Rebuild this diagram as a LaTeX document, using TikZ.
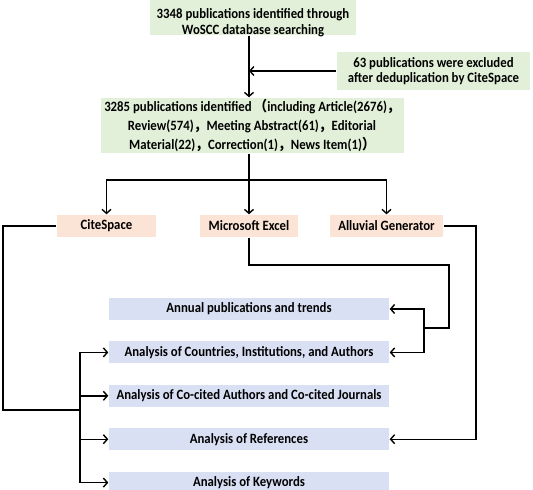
\documentclass[tikz,border=0pt]{standalone}
\usepackage{fontspec}
\setmainfont{Carlito}[FakeStretch=0.9]
\newfontfamily\cjk{Noto Sans CJK SC}[FakeStretch=0.9]
\usepackage{xcolor}
\usepackage{tikz}
\usetikzlibrary{arrows.meta, positioning}
\definecolor{srcgreen}{HTML}{E2F0D9}
\definecolor{toolpeach}{HTML}{FBE3D6}
\definecolor{resblue}{HTML}{DAE0F4}
\newcommand{\fw}[1]{{\cjk #1}}

\begin{document}
\begin{tikzpicture}[x=1pt, y=-1pt, line width=1.4pt,
        font=\bfseries\fontsize{14.2}{15.5}\selectfont,
        >={Straight Barb[length=4pt, width=9pt]},
        greenbox/.style={fill=srcgreen, align=center, inner sep=0pt},
        toolbox/.style={fill=toolpeach, inner sep=0pt, minimum height=22pt},
        resbox/.style={fill=resblue, inner sep=0pt, minimum width=280pt, minimum height=22pt}]
        \useasboundingbox (0,0) rectangle (533,490);

        % search and deduplication
        \node (search) [greenbox, minimum width=206pt, minimum height=46pt] at (253,12) {};
        \node (searchtxt) [align=center, inner sep=0pt] at (search.center |- 0,22.5)
            {3348 publications identified through\\WoSCC database searching};
        \node (excl) [greenbox, minimum width=193pt, minimum height=38pt] at (433.5,71)
            {63 publications were excluded\\after deduplication by CiteSpace};
        \node (ident) [greenbox, minimum width=303pt, minimum height=55pt,
            font=\bfseries\fontsize{14.2}{19}\selectfont] at (252,125.5)
            {3285 publications identified \fw{（}including Article(2676)\fw{，}\\
             Review(574)\fw{，}Meeting Abstract(61)\fw{，}Editorial\\
             Material(22)\fw{，}Correction(1)\fw{，}News Item(1)\fw{）}};

        % tools
        \node (cite) [toolbox, minimum width=99pt] at (106.5,226) {CiteSpace};
        \node (excel) [toolbox, minimum width=98pt] at (249,226) {Microsoft Excel};
        \node (alluv) [toolbox, minimum width=113pt] at (386.5,226) {Alluvial Generator};

        % results
        \node (r1) [resbox] at (249,309) {Annual publications and trends};
        \node (r2) [resbox, below=20pt of r1] {Analysis of Countries, Institutions, and Authors};
        \node (r3) [resbox, below=20pt of r2] {Analysis of Co-cited Authors and Co-cited Journals};
        \node (r4) [resbox, below=20pt of r3] {Analysis of References};
        \node (r5) [resbox, below=20pt of r4] {Analysis of Keywords};

        \coordinate (split) at (249,180);
        \coordinate (cleft) at (3,410);
        \coordinate (ctrunk) at (80,410);
        \coordinate (ebend) at (449,265);
        \coordinate (ebrk) at (424,328);
        \coordinate (aright) at (476,226);

        \draw [->] (search.south -| split) -- (ident.north -| split);
        \draw [->] (excl.west) -- (excl.west -| split);
        \draw (ident.south -| split) -- (split);
        \draw [->] (split) -| (cite.north);
        \draw [->] (split) -- (excel.north);
        \draw [->] (split) -| (alluv.north);

        \draw (cite.west) -| (cleft) -- (ctrunk);
        \draw [->] (ctrunk) |- (r2.west);
        \draw [->] (ctrunk) -- (ctrunk |- r3.west) -- (r3.west);
        \draw [->] (ctrunk) |- (r4.west);
        \draw [->] (ctrunk) |- (r5.west);

        \draw (excel.south) |- (ebend) |- (ebrk);
        \draw [->] (ebrk) |- (r1.east);
        \draw [->] (ebrk) |- (r2.east);

        \draw [->] (alluv.east) -- (aright) |- (r4.east);
\end{tikzpicture}
\end{document}
